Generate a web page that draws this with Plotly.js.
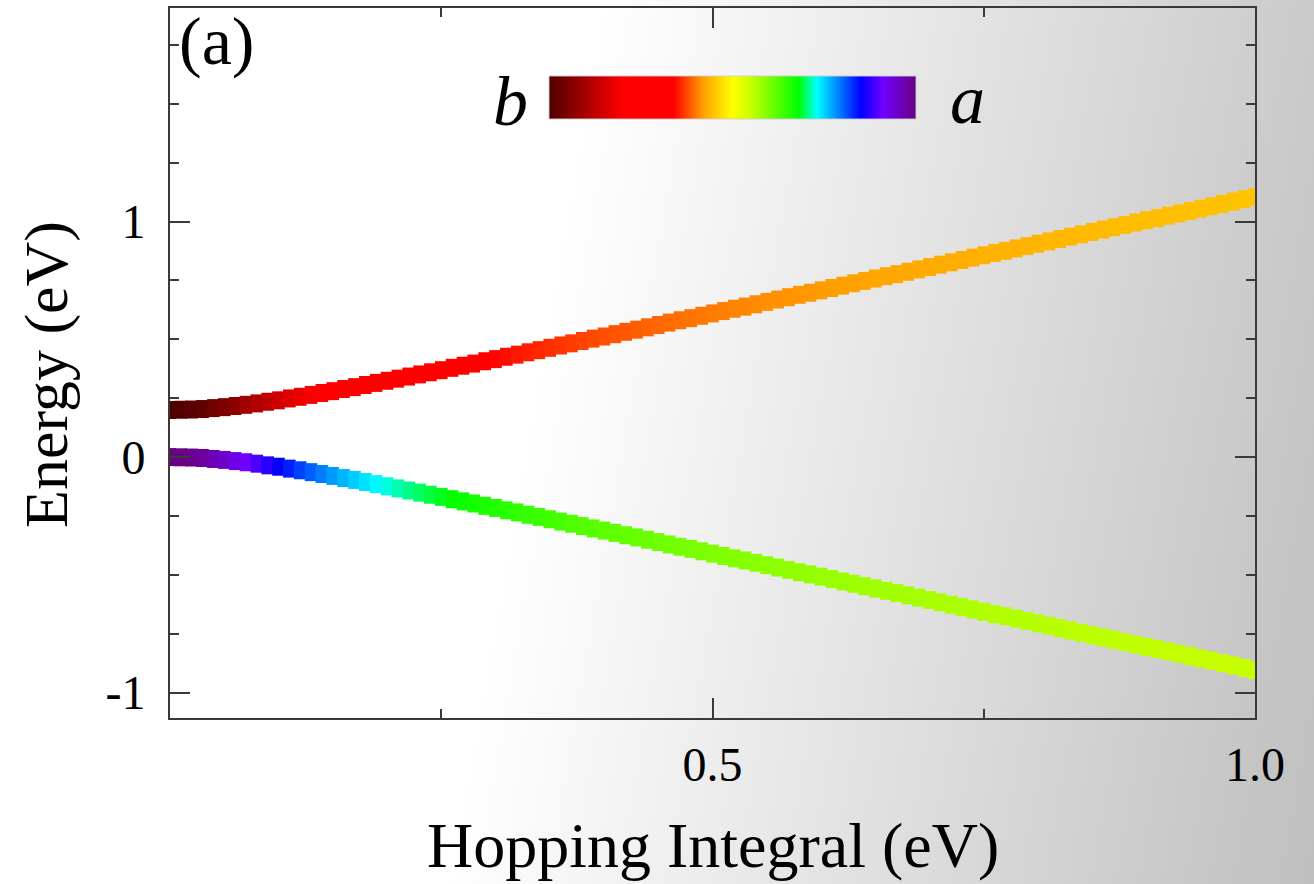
<!DOCTYPE html>
<html>
<head>
<meta charset="utf-8">
<script src="https://cdn.plot.ly/plotly-3.0.1.min.js"></script>
<style>
  html, body { margin: 0; padding: 0; }
  #chart {
    width: 1314px; height: 884px;
    background: linear-gradient(100deg, #ffffff 41%, #bfbfbf 100%);
  }
</style>
</head>
<body>
<div id="chart"></div>
<script>
// Hopping integral (eV)
const hopping = [0.00,0.01,0.02,0.03,0.04,0.05,0.06,0.07,0.08,0.09,
  0.10,0.11,0.12,0.13,0.14,0.15,0.16,0.17,0.18,0.19,
  0.20,0.21,0.22,0.23,0.24,0.25,0.26,0.27,0.28,0.29,
  0.30,0.31,0.32,0.33,0.34,0.35,0.36,0.37,0.38,0.39,
  0.40,0.41,0.42,0.43,0.44,0.45,0.46,0.47,0.48,0.49,
  0.50,0.51,0.52,0.53,0.54,0.55,0.56,0.57,0.58,0.59,
  0.60,0.61,0.62,0.63,0.64,0.65,0.66,0.67,0.68,0.69,
  0.70,0.71,0.72,0.73,0.74,0.75,0.76,0.77,0.78,0.79,
  0.80,0.81,0.82,0.83,0.84,0.85,0.86,0.87,0.88,0.89,
  0.90,0.91,0.92,0.93,0.94,0.95,0.96,0.97,0.98,0.99,1.00];
// Upper band energy (eV)
const energyUpper = [0.200,0.201,0.202,0.204,0.208,0.212,0.217,0.222,0.228,0.235,
  0.241,0.249,0.256,0.264,0.272,0.280,0.289,0.297,0.306,0.315,
  0.324,0.333,0.342,0.351,0.360,0.369,0.379,0.388,0.397,0.407,
  0.416,0.426,0.435,0.445,0.454,0.464,0.474,0.483,0.493,0.503,
  0.512,0.522,0.532,0.541,0.551,0.561,0.571,0.581,0.590,0.600,
  0.610,0.620,0.630,0.639,0.649,0.659,0.669,0.679,0.689,0.698,
  0.708,0.718,0.728,0.738,0.748,0.758,0.768,0.777,0.787,0.797,
  0.807,0.817,0.827,0.837,0.847,0.857,0.867,0.876,0.886,0.896,
  0.906,0.916,0.926,0.936,0.946,0.956,0.966,0.976,0.986,0.996,
  1.006,1.015,1.025,1.035,1.045,1.055,1.065,1.075,1.085,1.095,1.105];
// Lower band energy (eV)
const energyLower = [0.000,-0.001,-0.002,-0.004,-0.008,-0.012,-0.017,-0.022,-0.028,-0.035,
  -0.041,-0.049,-0.056,-0.064,-0.072,-0.080,-0.089,-0.097,-0.106,-0.115,
  -0.124,-0.133,-0.142,-0.151,-0.160,-0.169,-0.179,-0.188,-0.197,-0.207,
  -0.216,-0.226,-0.235,-0.245,-0.254,-0.264,-0.274,-0.283,-0.293,-0.303,
  -0.312,-0.322,-0.332,-0.341,-0.351,-0.361,-0.371,-0.381,-0.390,-0.400,
  -0.410,-0.420,-0.430,-0.439,-0.449,-0.459,-0.469,-0.479,-0.489,-0.498,
  -0.508,-0.518,-0.528,-0.538,-0.548,-0.558,-0.568,-0.577,-0.587,-0.597,
  -0.607,-0.617,-0.627,-0.637,-0.647,-0.657,-0.667,-0.676,-0.686,-0.696,
  -0.706,-0.716,-0.726,-0.736,-0.746,-0.756,-0.766,-0.776,-0.786,-0.796,
  -0.806,-0.815,-0.825,-0.835,-0.845,-0.855,-0.865,-0.875,-0.885,-0.895,-0.905];
// Character of each band (0 = b, 1 = a), shown as colour
const charUpper = [0.000,0.003,0.010,0.021,0.036,0.053,0.071,0.090,0.110,0.128,
  0.146,0.164,0.180,0.195,0.209,0.223,0.235,0.246,0.257,0.267,
  0.276,0.285,0.293,0.301,0.308,0.314,0.321,0.326,0.332,0.337,
  0.342,0.346,0.351,0.355,0.359,0.363,0.366,0.370,0.373,0.376,
  0.379,0.382,0.384,0.387,0.389,0.392,0.394,0.396,0.398,0.400,
  0.402,0.404,0.406,0.407,0.409,0.411,0.412,0.414,0.415,0.416,
  0.418,0.419,0.420,0.422,0.423,0.424,0.425,0.426,0.427,0.428,
  0.429,0.430,0.431,0.432,0.433,0.434,0.435,0.436,0.436,0.437,
  0.438,0.439,0.439,0.440,0.441,0.442,0.442,0.443,0.444,0.444,
  0.445,0.445,0.446,0.447,0.447,0.448,0.448,0.449,0.449,0.450,0.450];
const charLower = [1.000,0.997,0.990,0.979,0.964,0.947,0.929,0.910,0.890,0.872,
  0.854,0.836,0.820,0.805,0.791,0.777,0.765,0.754,0.743,0.733,
  0.724,0.715,0.707,0.699,0.692,0.686,0.679,0.674,0.668,0.663,
  0.658,0.654,0.649,0.645,0.641,0.637,0.634,0.630,0.627,0.624,
  0.621,0.618,0.616,0.613,0.611,0.608,0.606,0.604,0.602,0.600,
  0.598,0.596,0.594,0.593,0.591,0.589,0.588,0.586,0.585,0.584,
  0.582,0.581,0.580,0.578,0.577,0.576,0.575,0.574,0.573,0.572,
  0.571,0.570,0.569,0.568,0.567,0.566,0.565,0.564,0.564,0.563,
  0.562,0.561,0.561,0.560,0.559,0.558,0.558,0.557,0.556,0.556,
  0.555,0.555,0.554,0.553,0.553,0.552,0.552,0.551,0.551,0.550,0.550];

const yTickVals = [-1, 0, 1];
const yTickText = ['-1', '0', '1'];
const yMinorVals = [-0.75, -0.5, -0.25, 0.25, 0.5, 0.75, 1.25, 1.5, 1.75];
const xTickVals = [0, 0.5, 1.0];
const xTickText = ['', '0.5', '1.0'];
const xMinorVals = [0.25, 0.75];

const rainbow = [
  [0.00, '#500000'], [0.20, '#ff0000'], [0.34, '#ff0000'], [0.42, '#ffa000'],
  [0.50, '#ffff00'], [0.55, '#c8ff00'], [0.68, '#00ff00'], [0.73, '#00ffff'],
  [0.85, '#0000ff'], [0.91, '#7000ff'], [1.00, '#6a0080']
];

const FONT = 'Liberation Serif, Times New Roman, serif';
const AX = '#3a3a3a';

function band(y, c, showScale) {
  return {
    type: 'scatter', mode: 'markers', x: hopping, y: y,
    hoverinfo: 'skip', showlegend: false, cliponaxis: true,
    marker: {
      symbol: 'line-ew-open', size: 9,
      color: c, colorscale: rainbow, cmin: 0, cmax: 1,
      line: { width: 18 },
      showscale: showScale,
      colorbar: {
        orientation: 'h', x: 0.5185, xanchor: 'center', xref: 'paper',
        y: 0.904, yanchor: 'top', yref: 'paper',
        len: 0.338, lenmode: 'fraction', thickness: 43, thicknessmode: 'pixels',
        showticklabels: false, ticks: '', xpad: 0, ypad: 0,
        outlinewidth: 1, outlinecolor: 'rgba(205,205,205,0.9)', borderwidth: 0,
        bgcolor: 'rgba(0,0,0,0)'
      }
    }
  };
}

const data = [band(energyLower, charLower, false), band(energyUpper, charUpper, true)];

const layout = {
  width: 1314, height: 884,
  margin: { l: 170, r: 59, t: 8, b: 166 },
  paper_bgcolor: 'rgba(0,0,0,0)', plot_bgcolor: 'rgba(0,0,0,0)',
  font: { family: FONT, color: '#000' },
  xaxis: {
    range: [0, 1.0], showgrid: false, zeroline: false,
    showline: true, linecolor: AX, linewidth: 2, mirror: 'ticks',
    ticks: 'inside', ticklen: 20, tickwidth: 2, tickcolor: AX,
    tickmode: 'array', tickvals: xTickVals, ticktext: xTickText,
    tickfont: { family: FONT, size: 48, color: '#000' }, ticklabelstandoff: 3,
    minor: { tickmode: 'array', tickvals: xMinorVals, ticks: 'inside', ticklen: 9, tickwidth: 2, tickcolor: AX, showgrid: false }
  },
  yaxis: {
    range: [-1.108, 1.907], showgrid: false, zeroline: false,
    showline: true, linecolor: AX, linewidth: 2, mirror: 'ticks',
    ticks: 'inside', ticklen: 20, tickwidth: 2, tickcolor: AX,
    tickmode: 'array', tickvals: yTickVals, ticktext: yTickText,
    tickfont: { family: FONT, size: 48, color: '#000' }, ticklabelstandoff: 13,
    minor: { tickmode: 'array', tickvals: yMinorVals, ticks: 'inside', ticklen: 9, tickwidth: 2, tickcolor: AX, showgrid: false }
  },
  annotations: [
    { text: 'Hopping Integral (eV)', xref: 'paper', yref: 'paper', x: 0.5, y: -0.179,
      xanchor: 'center', yanchor: 'middle', showarrow: false, font: { family: FONT, size: 64, color: '#000' } },
    { text: 'Energy (eV)', xref: 'paper', yref: 'paper', x: -0.1143, y: 0.4845, textangle: -90,
      xanchor: 'center', yanchor: 'middle', showarrow: false, font: { family: FONT, size: 62, color: '#000' } },
    { text: '(a)', xref: 'paper', yref: 'paper', x: 0.0429, y: 0.9535,
      xanchor: 'center', yanchor: 'middle', showarrow: false, font: { family: FONT, size: 68, color: '#000' } },
    { text: '<i>b</i>', xref: 'paper', yref: 'paper', x: 0.3134, y: 0.8685,
      xanchor: 'center', yanchor: 'middle', showarrow: false, font: { family: FONT, size: 70, color: '#000' } },
    { text: '<i>a</i>', xref: 'paper', yref: 'paper', x: 0.7346, y: 0.871,
      xanchor: 'center', yanchor: 'middle', showarrow: false, font: { family: FONT, size: 70, color: '#000' } }
  ]
};

Plotly.newPlot('chart', data, layout, { displayModeBar: false, staticPlot: true });
</script>
</body>
</html>
